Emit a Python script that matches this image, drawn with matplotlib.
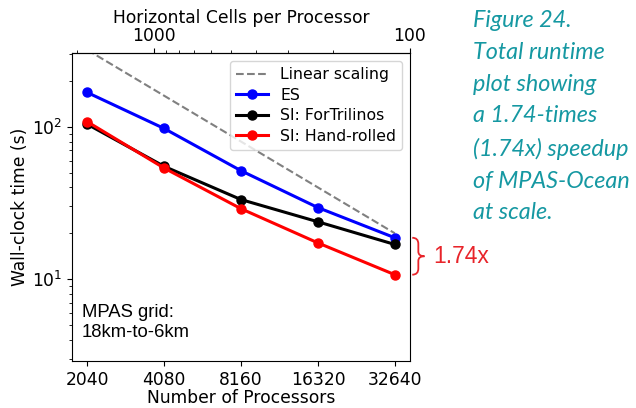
import numpy as np
import matplotlib
matplotlib.use("Agg")
import matplotlib.pyplot as plt
from matplotlib.path import Path
from matplotlib.patches import PathPatch
from matplotlib.ticker import FixedLocator, FixedFormatter, NullFormatter

# data
processors = [2040, 4080, 8160, 16320, 32640]
proc_labels = ["2040", "4080", "8160", "16320", "32640"]
linear_scaling = [320, 160, 80, 40, 20]
es_time = [168, 97.5, 51.5, 29.5, 18.7]
fortrilinos_time = [104, 55, 33.3, 23.8, 16.9]
handrolled_time = [108, 53.6, 29.0, 17.3, 10.7]
total_cells = 3.73e6  # horizontal cells in 18km-to-6km mesh
cell_ticks = [100, 1000]
cell_labels = ["100", "1000"]
cell_minor = [200, 300, 400, 500, 600, 700, 800, 900, 2000]
speedup_label = "1.74x"
caption = ("Figure 24.\nTotal runtime\nplot showing\na 1.74-times\n"
           "(1.74x) speedup\nof MPAS-Ocean\nat scale.")

fs = 12.3

fig = plt.figure(figsize=(6.36, 4.08), dpi=100)
ax = fig.add_axes([0.113, 0.115, 0.532, 0.755])

ax.plot(processors, linear_scaling, '--', color='gray', lw=1.5, label='Linear scaling')
ax.plot(processors, es_time, '-o', color='blue', lw=2.2, ms=6.5, label='ES')
ax.plot(processors, fortrilinos_time, '-o', color='black', lw=2.2, ms=6.5, label='SI: ForTrilinos')
ax.plot(processors, handrolled_time, '-o', color='red', lw=2.2, ms=6.5, label='SI: Hand-rolled')

ax.set_xscale('log', base=2)
ax.set_yscale('log')
ax.set_xlim(2040 * 2 ** -0.2, 32640 * 2 ** 0.2)
ymin, ymax = 2.9, 305
ax.set_ylim(ymin, ymax)
ax.xaxis.set_major_locator(FixedLocator(processors))
ax.xaxis.set_major_formatter(FixedFormatter(proc_labels))
ax.xaxis.set_minor_formatter(NullFormatter())
ax.tick_params(labelsize=fs)
ax.set_xlabel('Number of Processors', fontsize=fs, labelpad=0)
ax.set_ylabel('Wall-clock time (s)', fontsize=fs, labelpad=2)

# top axis: cells per processor
top = ax.secondary_xaxis('top', functions=(lambda p: total_cells / p,
                                           lambda c: total_cells / c))
top.xaxis.set_major_locator(FixedLocator(cell_ticks))
top.xaxis.set_major_formatter(FixedFormatter(cell_labels))
top.xaxis.set_minor_locator(FixedLocator(cell_minor))
top.xaxis.set_minor_formatter(NullFormatter())
top.set_xlabel('Horizontal Cells per Processor', fontsize=fs, labelpad=3)
top.tick_params(labelsize=fs, pad=2)

ax.legend(loc='upper right', fontsize=11.3, handlelength=2.0,
          borderaxespad=0.5, labelspacing=0.35)

ax.text(0.03, 0.065, "MPAS grid:\n18km-to-6km", transform=ax.transAxes,
        fontsize=13.3, family='Liberation Sans', va='bottom', ha='left', linespacing=1.25)

# curly brace marking the speedup at the largest run
def yfrac(v):
    return (np.log10(v) - np.log10(ymin)) / (np.log10(ymax) - np.log10(ymin))

y_top, y_bot = yfrac(es_time[-1]), yfrac(handrolled_time[-1])
y_mid = (y_top + y_bot) / 2
x0, w = 1.006, 0.036
xm = x0 + w * 0.5
verts = [(x0, y_top), (xm, y_top), (xm, y_top - 0.02),
         (xm, y_mid + 0.015),
         (xm, y_mid), (x0 + w, y_mid),
         (xm, y_mid), (xm, y_mid - 0.015),
         (xm, y_bot + 0.02),
         (xm, y_bot), (x0, y_bot)]
codes = [Path.MOVETO, Path.CURVE3, Path.CURVE3, Path.LINETO,
         Path.CURVE3, Path.CURVE3, Path.CURVE3, Path.CURVE3,
         Path.LINETO, Path.CURVE3, Path.CURVE3]
brace = PathPatch(Path(verts, codes), transform=ax.transAxes, fill=False,
                  edgecolor='#e8242a', lw=1.3, clip_on=False)
ax.add_patch(brace)
ax.text(x0 + w + 0.025, y_mid, speedup_label, transform=ax.transAxes, color='#e8242a',
        fontsize=16.5, family='Liberation Sans', va='center', ha='left')

fig.text(0.743, 0.975, caption, color='#1598a2', fontsize=16.8, style='italic',
         family='Lato', va='top', ha='left', linespacing=1.63)

fig.savefig('out.png', dpi=100)
